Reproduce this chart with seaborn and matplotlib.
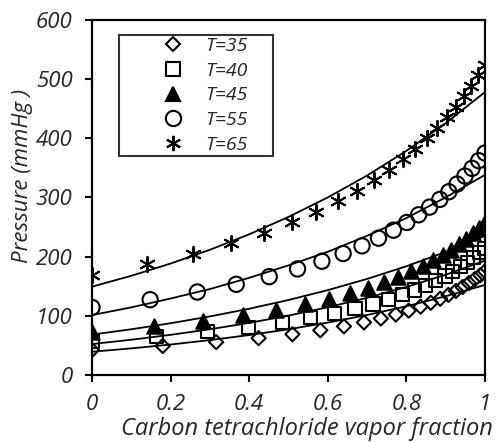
import seaborn as sns
import pandas as pd
import matplotlib.pyplot as plt
from matplotlib.lines import Line2D

x35 = [0, 0.18, 0.316, 0.424, 0.51, 0.581, 0.641, 0.692, 0.735, 0.773, 0.806,
       0.836, 0.862, 0.886, 0.907, 0.926, 0.943, 0.959, 0.974, 0.988, 1.0]
p35 = [42, 48.7, 55.3, 62, 68.6, 75.3, 81.9, 88.6, 95.2, 101.9, 108.5,
       115.2, 121.8, 128.5, 135.1, 141.8, 148.4, 155.1, 161.7, 168.4, 175]
x40 = [0, 0.165, 0.294, 0.399, 0.484, 0.556, 0.617, 0.669, 0.715, 0.754, 0.79,
       0.821, 0.849, 0.875, 0.898, 0.918, 0.938, 0.955, 0.971, 0.986, 1.0]
p40 = [57, 64.9, 72.7, 80.6, 88.4, 96.3, 104.1, 112, 119.8, 127.7, 135.5,
       143.4, 151.2, 159.1, 166.9, 174.8, 182.6, 190.5, 198.3, 206.2, 214]
x45 = [0, 0.157, 0.282, 0.384, 0.469, 0.541, 0.602, 0.656, 0.702, 0.743, 0.779,
       0.812, 0.841, 0.868, 0.892, 0.914, 0.934, 0.952, 0.97, 0.985, 1.0]
p45 = [73, 82.3, 91.5, 100.8, 110, 119.3, 128.5, 137.8, 147, 156.3, 165.5,
       174.8, 184, 193.3, 202.5, 211.8, 221, 230.3, 239.5, 248.8, 258]
x55 = [0, 0.148, 0.268, 0.367, 0.451, 0.523, 0.585, 0.639, 0.687, 0.729, 0.767,
       0.801, 0.831, 0.859, 0.885, 0.908, 0.929, 0.949, 0.967, 0.984, 1.0]
p55 = [114, 127, 140, 153, 166, 179, 192, 205, 218, 231, 244.5,
       257.5, 270.5, 283.5, 296.5, 309.5, 322.5, 336, 349, 362, 375]
x65 = [0, 0.14, 0.256, 0.354, 0.437, 0.508, 0.571, 0.625, 0.674, 0.717, 0.756,
       0.791, 0.823, 0.852, 0.879, 0.903, 0.925, 0.946, 0.965, 0.983, 1.0]
p65 = [169, 186.8, 204.5, 222.3, 240, 257.8, 275.5, 293.3, 311, 328.8, 346.5,
       364.3, 382, 399.8, 417.5, 435.3, 453, 470.8, 488.5, 506.3, 524]

# model curves, read at x = 0, 0.1, ..., 1
xfit = [0, 0.1, 0.2, 0.3, 0.4, 0.5, 0.6, 0.7, 0.8, 0.9, 1.0]
fit35 = [39, 44.7, 51.2, 58.7, 67.2, 77, 88.3, 101.1, 115.9, 132.8, 152]
fit40 = [52, 59.3, 67.6, 77, 87.8, 100.1, 114.2, 130.2, 148.4, 169.2, 193]
fit45 = [68, 77, 87.2, 98.7, 111.7, 126.5, 143.2, 162.1, 183.5, 207.8, 235]
fit55 = [101, 114, 129, 145, 164, 185, 208, 235, 265, 300, 338]
fit65 = [149, 167.4, 188.1, 211.4, 237.5, 266.9, 299.9, 336.9, 378.6, 425.4, 478]

labels = ['T=35', 'T=40', 'T=45', 'T=55', 'T=65']
xs = [x35, x40, x45, x55, x65]
ps = [p35, p40, p45, p55, p65]
fits = [fit35, fit40, fit45, fit55, fit65]

sns.set_style('white')
plt.rcParams['font.family'] = ['Open Sans', 'DejaVu Sans']
plt.rcParams['font.style'] = 'italic'

fig = plt.figure(figsize=(5, 4.42), dpi=100)
ax = fig.add_axes([0.184, 0.152, 0.786, 0.803])

# curves first, markers on top
for fit in fits:
    df_fit = pd.DataFrame({'x': xfit, 'p': fit})
    sns.lineplot(data=df_fit, x='x', y='p', ax=ax, color='black', linewidth=1.3)

# marker styles: (marker, size in points, filled)
styles = [('D', 7.2, False), ('s', 9.5, False), ('^', 10.5, True),
          ('o', 11, False), ((6, 2, 0), 11, True)]
for x, p, (mk, ms, filled) in zip(xs, ps, styles):
    df = pd.DataFrame({'x': x, 'p': p})
    if filled:
        sns.scatterplot(data=df, x='x', y='p', ax=ax, marker=mk, s=ms ** 2,
                        color='black', edgecolor='black', linewidth=1.4)
    else:
        sns.scatterplot(data=df, x='x', y='p', ax=ax, marker=mk, s=ms ** 2,
                        facecolors='none', edgecolor='black', linewidth=1.5)

ax.set_xlim(0, 1)
ax.set_ylim(0, 600)
ax.set_xticks([0, 0.2, 0.4, 0.6, 0.8, 1])
ax.set_xticklabels(['0', '0.2', '0.4', '0.6', '0.8', '1'])
ax.set_yticks(range(0, 601, 100))
ax.tick_params(direction='out', length=5, width=1.5, labelsize=16, color='black',
               bottom=True, left=True)
ax.tick_params(axis='x', pad=9)
ax.tick_params(axis='y', pad=9)
for sp in ax.spines.values():
    sp.set_color('black')
    sp.set_linewidth(1.6)
ax.set_xlabel('')
ax.set_ylabel('')
fig.text(0.614, 0.029, 'Carbon tetrachloride vapor fraction', ha='center', va='center',
         fontsize=17)
fig.text(0.046, 0.603, 'Pressure (mmHg )', ha='center', va='center', rotation=90,
         fontsize=16)

handles = [Line2D([], [], linestyle='none', marker=mk, markersize=ms,
                  markerfacecolor='black' if filled else 'none',
                  markeredgecolor='black', markeredgewidth=1.5)
           for mk, ms, filled in styles]
leg = ax.legend(handles, labels, loc='upper left',
                bbox_to_anchor=(0.069, 0.5, 0.392, 0.458), mode='expand',
                borderaxespad=0, fontsize=14, handlelength=5.35, handletextpad=-1.03,
                labelspacing=0.35, fancybox=False, frameon=True, borderpad=0.1,
                numpoints=1)
leg.get_frame().set_edgecolor('black')
leg.get_frame().set_linewidth(1.5)

fig.savefig('out.png', dpi=100)
